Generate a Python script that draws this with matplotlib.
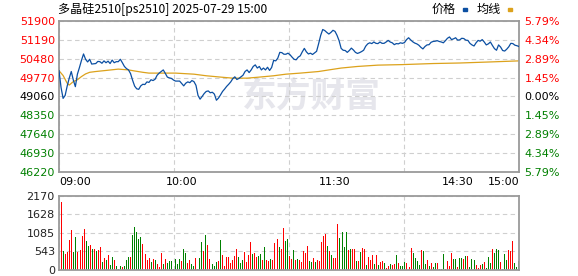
import numpy as np
import matplotlib
matplotlib.use('Agg')
import matplotlib.pyplot as plt
from matplotlib.patches import Rectangle
from matplotlib.transforms import blended_transform_factory

title = '多晶硅2510[ps2510] 2025-07-29 15:00'
pre_settle = 49060
price_ticks = [51900, 51190, 50480, 49770, 49060, 48350, 47640, 46930, 46220]
pct_labels = ['5.79%', '4.34%', '2.89%', '1.45%', '0.00%',
              '1.45%', '2.89%', '4.34%', '5.79%']
vol_ticks = [0, 543, 1085, 1628, 2170]
time_labels = ['09:00', '10:00', '11:30', '14:30', '15:00']
time_pos = [0, 60, 135, 195, 225]

# one value per minute, 09:00 .. 15:00 (225 trading minutes)
price = [
    50030, 49400, 48990, 49100, 49450, 49750, 50000, 49680, 49430, 49900,
    50150, 50420, 50660, 50460, 50360, 50460, 50280, 50290, 50300, 50380,
    50370, 50310, 50400, 50330, 50390, 50300, 50430, 50330, 50370, 50370,
    50460, 50330, 50190, 50110, 50060, 49920, 49670, 49450, 49350, 49330,
    49460, 49520, 49510, 49610, 49590, 49690, 49660, 49710, 49860, 49940,
    50000, 50060, 49930, 49790, 49760, 49740, 49680, 49640, 49640, 49640,
    49550, 49460, 49560, 49610, 49580, 49660, 49620, 49480, 49100, 48960,
    49060, 49170, 49250, 49270, 49200, 49220, 49150, 48920, 49000, 49120,
    49250, 49340, 49440, 49520, 49610, 49730, 49800, 49700, 49740, 49800,
    49860, 50000, 50060, 49960, 50060, 50190, 50250, 50130, 50190, 50060,
    50130, 50060, 50160, 50040, 50150, 50420, 50400, 50500, 50720, 50710,
    50650, 50650, 50690, 50630, 50540, 50460, 50440, 50540, 50590, 50740,
    50870, 50740, 50660, 50690, 50640, 50700, 50760, 51050, 51360, 51580,
    51540, 51470, 51410, 51470, 51550, 51510, 51360, 51160, 50870, 50800,
    50790, 50720, 50790, 50880, 50810, 50720, 50680, 50710, 50750, 50800,
    50950, 51040, 51080, 51050, 51110, 51060, 51050, 51110, 51060, 51060,
    51110, 51170, 51110, 51080, 51010, 51050, 51040, 51080, 51060, 51090,
    51200, 51270, 51190, 51120, 51070, 51040, 50990, 50910, 50850, 50940,
    51000, 51010, 51100, 51130, 51140, 51160, 51130, 51110, 51080, 51160,
    51250, 51300, 51200, 51230, 51270, 51180, 51190, 51250, 51240, 51180,
    51170, 51060, 51000, 50960, 51080, 51170, 51140, 51200, 51110, 51000,
    51040, 51110, 50980, 50860, 50800, 51000, 50920, 50790, 50770, 50840,
    50930, 51060, 51050, 50990, 50970, 50940,
]

# average price line, read at its turning points
avg_min = [0, 2, 4, 5, 7, 9, 11, 13, 15, 18, 23, 29, 34, 37, 41, 44, 57, 66,
           72, 79, 85, 92, 98, 105, 111, 118, 127, 132, 138, 146, 156, 168,
           183, 196, 211, 225]
avg_val = [50030, 49850, 49560, 49490, 49620, 49690, 49810, 49910, 49970,
           50000, 50040, 50090, 50060, 50020, 49970, 49940, 49940, 49900,
           49840, 49790, 49750, 49750, 49790, 49840, 49900, 49940, 50000,
           50060, 50130, 50190, 50240, 50260, 50300, 50320, 50360, 50400]

volume = [
    2000, 557, 469, 528, 880, 1173, 528, 968, 528, 587,
    997, 1202, 850, 704, 733, 616, 616, 557, 587, 674,
    235, 352, 293, 440, 147, 381, 293, 117, 29, 117,
    88, 117, 293, 381, 381, 1026, 1261, 1114, 909, 968,
    762, 469, 293, 352, 235, 323, 293, 176, 88, 499,
    176, 323, 205, 264, 264, 29, 323,
    176, 323, 264, 616, 499, 205, 293, 176, 117, 352,
    29, 352, 821, 557, 1026, 733, 323, 176, 117, 235,
    264, 880, 440, 117, 381, 381, 205, 293, 411, 616,
    381, 205, 293, 528, 235, 440, 821, 469, 499, 381,
    411, 469, 293, 674, 293, 264, 323, 293, 792, 909,
    674, 616, 1232, 850, 909, 411,
    323, 587, 293, 323, 293, 235, 557, 499, 704, 264,
    235, 352, 235, 293, 264, 821, 997, 1055, 704, 557,
    440, 352, 352, 1349, 938, 1114, 674, 1114, 587, 616,
    616, 616, 264, 264, 528, 645, 616, 147, 381, 293,
    440, 176, 440, 147, 235, 264, 205, 59, 117, 176,
    147, 176, 440, 205, 117, 117, 235,
    205, 88, 645, 499, 352, 264, 147, 587, 557, 176,
    293, 117, 205, 88, 205, 205, 29, 29, 469, 29,
    264, 117, 499, 323, 323, 88, 352, 352, 323, 411,
    411, 88, 323, 293, 147, 59, 147, 176, 235, 59,
    381, 205, 616, 499, 616, 587, 235, 29, 469, 293,
    587, 557, 850, 205, 88, 264,
]
# r = up minute, g = down minute
vol_dir = ('rgrrrrggrrrrggrgrgrrgrgrggrggg' 'rgggrgggggrrrrgrgrrrgrggggg'
           'ggrggrrggrgggrgrrgggrgrrrrrrrr' 'gggrrrrgrrggrgrrgrrrgrrggr'
           'rgrgrrrrrggrgrrrrrgrgrrrggggrg' 'rrgrgrrgrrrgrgrrgrrgrrgrggg'
           'rrrggggrggrgrggrgggrrrrggrggrg' 'rgggrrrgrgggrgggrgggrrrggg')

RED = '#ff0000'
GREEN = '#008000'
FRAME = '#9a9a9a'
GRID = '#cfcfcf'
CJK = ['Noto Sans CJK SC', 'DejaVu Sans']


def level_color(v):
    if v > pre_settle:
        return RED
    if v < pre_settle:
        return GREEN
    return 'black'


fig = plt.figure(figsize=(5.78, 2.76), dpi=100)
W, H = 578, 276
ax = fig.add_axes([59 / W, 1 - 172 / H, 460 / W, 151 / H])
axv = fig.add_axes([59 / W, 1 - 270 / H, 460 / W, 74 / H])

for a in (ax, axv):
    a.set_xlim(0, 225)
    a.set_xticks([0, 56.25, 112.5, 168.75, 225])
    a.set_xticklabels([])
    a.grid(True, color=GRID, ls=(0, (4, 3)), lw=0.8)
    a.tick_params(length=0, labelsize=8, pad=3)
    for s in a.spines.values():
        s.set_color(FRAME)
        s.set_linewidth(1.3)
    a.set_axisbelow(True)

# watermark
ax.text(0.548, 0.5, '东方财富', transform=ax.transAxes, fontsize=25,
        fontweight='bold', color='#e6e6ec', ha='center', va='center',
        family=CJK, zorder=0)

minutes = np.arange(len(price))
ax.plot(avg_min, avg_val, color='#dca21c', lw=0.9, zorder=2)
ax.plot(minutes, price, color='#0b4fa2', lw=0.9, zorder=3)
ax.set_ylim(price_ticks[-1], price_ticks[0])
ax.set_yticks(price_ticks)
ax.set_yticklabels([str(v) for v in price_ticks])
for lbl, v in zip(ax.get_yticklabels(), price_ticks):
    lbl.set_color(level_color(v))

ax2 = ax.twinx()
ax2.set_ylim(price_ticks[-1], price_ticks[0])
ax2.set_yticks(price_ticks)
ax2.set_yticklabels(pct_labels)
ax2.tick_params(length=0, labelsize=8, pad=4)
for s in ax2.spines.values():
    s.set_visible(False)
for lbl, v in zip(ax2.get_yticklabels(), price_ticks):
    lbl.set_color(level_color(v))

trans = blended_transform_factory(ax.transData, ax.transAxes)
aligns = ['left', 'center', 'center', 'center', 'right']
for t, p, ha in zip(time_labels, time_pos, aligns):
    ax.text(p, -0.066, t, transform=trans, fontsize=8, ha=ha, va='center')

# volume bars, one pixel wide
n = len(volume)
vx = 1.1 + np.arange(n) * (223.5 / (n - 1))
vcol = [RED if c == 'r' else GREEN for c in vol_dir]
axv.vlines(vx, 0, volume, colors=vcol, lw=0.72, antialiased=False, zorder=2)
axv.set_ylim(0, 2170)
axv.set_yticks(vol_ticks)
axv.set_yticklabels([str(v) for v in vol_ticks])
for lbl in axv.get_yticklabels():
    lbl.set_color('#222222')

# title and legend
fig.text(58 / W, 1 - 9 / H, title, fontsize=8.7, ha='left', va='center',
         family=CJK)
fig.text(432 / W, 1 - 9 / H, '价格', fontsize=8.7, ha='left', va='center',
         family=CJK)
fig.text(477 / W, 1 - 9 / H, '均线', fontsize=8.7, ha='left', va='center',
         family=CJK)
fig.patches.append(Rectangle((463 / W, 1 - 11 / H), 4 / W, 3 / H,
                             transform=fig.transFigure, color='#0b4fa2'))
fig.patches.append(Rectangle((508 / W, 1 - 11 / H), 4 / W, 3 / H,
                             transform=fig.transFigure, color='#dca21c'))

fig.savefig('out.png', dpi=100)
